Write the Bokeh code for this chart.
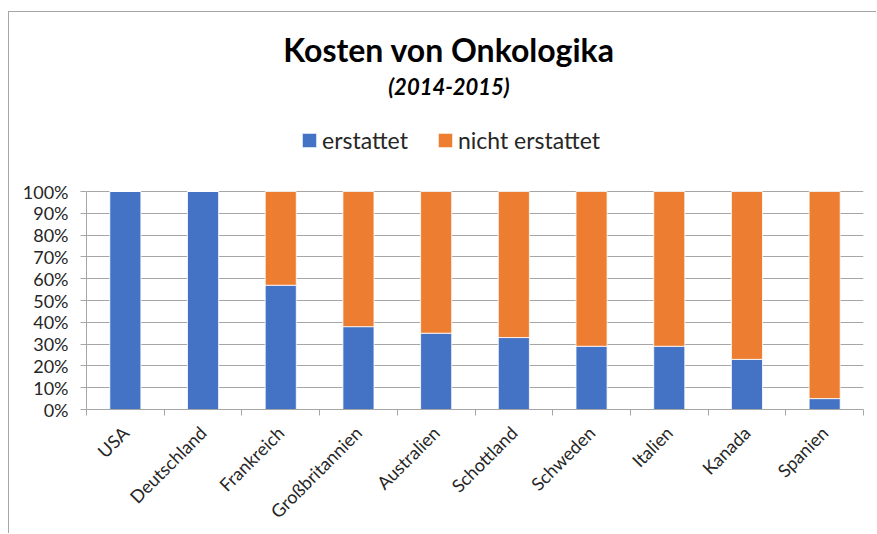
from math import pi
from bokeh.plotting import figure
from bokeh.models import (ColumnDataSource, Range1d, LinearAxis, FixedTicker,
                          NumeralTickFormatter, Legend, LegendItem, Label)
from bokeh.embed import file_html
from bokeh.resources import INLINE

# ---- data ----
countries = ["USA", "Deutschland", "Frankreich", "Großbritannien", "Australien",
             "Schottland", "Schweden", "Italien", "Kanada", "Spanien"]
erstattet = [1.00, 1.00, 0.57, 0.38, 0.35, 0.33, 0.29, 0.29, 0.23, 0.05]
nicht_erstattet = [0.00, 0.00, 0.43, 0.62, 0.65, 0.67, 0.71, 0.71, 0.77, 0.95]
series_names = ["erstattet", "nicht erstattet"]
series_colors = ["#4472C4", "#ED7D31"]
y_ticks = [0.0, 0.1, 0.2, 0.3, 0.4, 0.5, 0.6, 0.7, 0.8, 0.9, 1.0]
title_text = "Kosten von Onkologika"
subtitle_text = "(2014-2015)"

FONT = "Lato"
GRID = "#a6a6a6"
TXT = "#262626"

n = len(countries)
centers = [i + 0.5 for i in range(n)]
source = ColumnDataSource(data={"x": centers,
                                series_names[0]: erstattet,
                                series_names[1]: nicht_erstattet})

FRAME_H = 397
Y_TOP = FRAME_H / 218.0  # headroom above 100% for title and legend

p = figure(x_range=Range1d(0, n), y_range=Range1d(0, Y_TOP), title=None,
           width=868, height=522, output_backend="svg", toolbar_location=None,
           x_axis_location=None,
           min_border_left=77, min_border_right=14, min_border_top=0,
           min_border_bottom=522 - FRAME_H)
p.styles = {"border-left": "1px solid #a6a6a6", "border-top": "1px solid #a6a6a6",
            "margin-left": "8px", "margin-top": "11px"}
p.outline_line_color = None
p.background_fill_color = "white"

rs = p.vbar_stack(series_names, x="x", width=0.4, source=source,
                  color=series_colors, line_color="white", line_width=0.8)

# y axis
p.yaxis.ticker = FixedTicker(ticks=y_ticks)
p.yaxis.bounds = (0, 1)
p.yaxis.formatter = NumeralTickFormatter(format="0%")
p.yaxis.axis_line_color = GRID
p.yaxis.major_tick_line_color = GRID
p.yaxis.major_tick_out = 6
p.yaxis.major_tick_in = 0
p.yaxis.minor_tick_line_color = None
p.yaxis.major_label_text_font = FONT
p.yaxis.major_label_text_font_size = "18px"
p.yaxis.major_label_text_color = TXT
p.yaxis.major_label_standoff = 12

p.ygrid.ticker = FixedTicker(ticks=y_ticks)
p.ygrid.grid_line_color = GRID
p.ygrid.grid_line_width = 1
p.xgrid.visible = False

# tick axis at category boundaries
tick_axis = LinearAxis(ticker=FixedTicker(ticks=list(range(n + 1))),
                       major_label_text_font_size="0px", major_label_text_color=None,
                       major_label_standoff=0,
                       major_tick_out=6, major_tick_in=0,
                       major_tick_line_color=GRID, minor_tick_line_color=None,
                       axis_line_color=GRID)
# category label axis
cat_axis = LinearAxis(ticker=FixedTicker(ticks=centers),
                      major_label_overrides={c: name for c, name in zip(centers, countries)},
                      axis_line_color=None, major_tick_line_color=None,
                      minor_tick_line_color=None,
                      major_label_orientation=pi / 4,
                      major_label_text_font=FONT, major_label_text_font_size="18px",
                      major_label_text_color=TXT, major_label_standoff=8)
p.add_layout(tick_axis, "below")
p.add_layout(cat_axis, "below")

# titles
p.add_layout(Label(x=4.665, y=1.65, text=title_text,
                   text_align="center", text_baseline="alphabetic",
                   text_font=FONT, text_font_style="bold", text_font_size="32px",
                   text_color="black"))
p.add_layout(Label(x=4.665, y=1.48, text=subtitle_text,
                   text_align="center", text_baseline="alphabetic",
                   text_font=FONT, text_font_style="bold italic", text_font_size="22px",
                   text_color="black"))

legend = Legend(items=[LegendItem(label=series_names[i], renderers=[rs[i]]) for i in range(2)],
                location=(214, 255), orientation="horizontal",
                glyph_width=18, glyph_height=18, label_standoff=4, spacing=28,
                padding=5, label_text_font=FONT, label_text_font_size="23px",
                label_text_color=TXT, border_line_color=None, background_fill_alpha=0)
p.add_layout(legend, "center")

open("out.html", "w").write(file_html(p, INLINE))
